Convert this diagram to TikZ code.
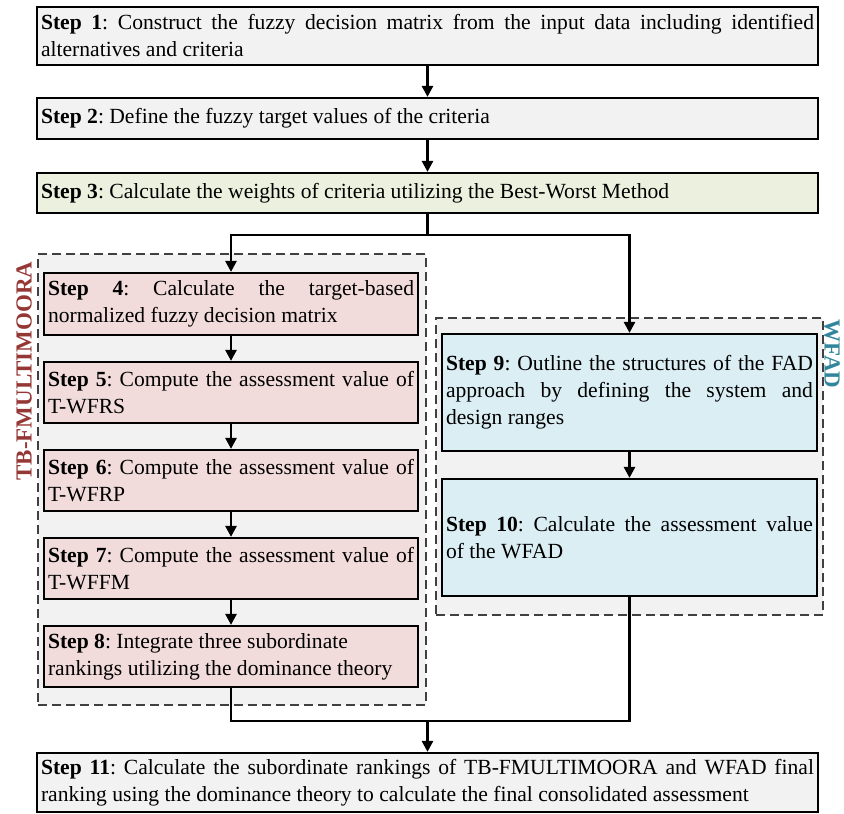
\documentclass[tikz,border=0pt]{standalone}
\usepackage{fontspec}
\setmainfont{Liberation Serif}
\usetikzlibrary{arrows.meta}
\definecolor{boxgray}{HTML}{F2F2F2}
\definecolor{boxgreen}{HTML}{EBF1DE}
\definecolor{boxpink}{HTML}{F2DCDB}
\definecolor{boxblue}{HTML}{DBEEF4}
\definecolor{tbred}{HTML}{953735}
\definecolor{wfteal}{HTML}{31859C}
\newcommand{\steplabel}[1]{\textbf{Step #1}}
\frenchspacing
\hyphenpenalty=10000
\tolerance=9999
\hbadness=10000
\tikzset{
  stepbox/.style={draw, line width=2.2pt, inner xsep=4pt, inner ysep=1pt, align=justify,
    font=\fontsize{21.6}{27}\selectfont},
  grpbox/.style={draw=black!75, dash pattern=on 9pt off 5pt, line width=1.6pt, fill=boxgray, inner sep=0pt},
  grplabel/.style={font=\fontsize{23}{23}\selectfont\bfseries, inner sep=0pt},
  flow/.style={line width=2.6pt},
  flowarr/.style={flow, -{Triangle[length=11pt,width=11pt]}},
}
\begin{document}
\begin{tikzpicture}[x=1pt,y=-1pt]
\useasboundingbox (0,0) rectangle (844,814);
% dashed groups
\node[grpbox, minimum width=388pt, minimum height=451pt] (gtb) at (232,479.5) {};
\node[grpbox, minimum width=387pt, minimum height=297pt] (gwf) at (629.5,466.5) {};
\node[grplabel, rotate=90, text=tbred] (ltb) at (24,371) {TB-FMULTIMOORA};
\node[grplabel, rotate=-90, text=wfteal] (lwf) at (832,354) {WFAD};
% steps
\node[stepbox, fill=boxgray, text width=773pt, minimum height=58pt] (s1) at (427.5,36)
  {\steplabel{1}: Construct the fuzzy decision matrix from the input data including identified\linebreak alternatives and criteria};
\node[stepbox, fill=boxgray, text width=773pt, minimum height=41pt] (s2) at (427.5,118.5)
  {\steplabel{2}: Define the fuzzy target values of the criteria};
\node[stepbox, fill=boxgreen, text width=773pt, minimum height=40pt] (s3) at (427.5,193)
  {\steplabel{3}: Calculate the weights of criteria utilizing the Best-Worst Method};
\node[stepbox, fill=boxpink, text width=366pt, minimum height=62pt] (s4) at (231,304)
  {\steplabel{4}: Calculate the target-based\linebreak normalized fuzzy decision matrix};
\node[stepbox, fill=boxpink, text width=366pt, minimum height=61pt] (s5) at (231,392.5)
  {\steplabel{5}: Compute the assessment value of\linebreak T-WFRS};
\node[stepbox, fill=boxpink, text width=366pt, minimum height=61pt] (s6) at (231,480.5)
  {\steplabel{6}: Compute the assessment value of\linebreak T-WFRP};
\node[stepbox, fill=boxpink, text width=366pt, minimum height=61pt] (s7) at (231,568.5)
  {\steplabel{7}: Compute the assessment value of\linebreak T-WFFM};
\node[stepbox, fill=boxpink, text width=366pt, minimum height=61pt] (s8) at (231,656.5)
  {\steplabel{8}: Integrate three subordinate\\ rankings utilizing the dominance theory};
\node[stepbox, fill=boxblue, text width=367pt, minimum height=117pt] (s9) at (629.5,392.5)
  {\steplabel{9}: Outline the structures of the FAD\linebreak approach by defining the system and\linebreak design ranges};
\node[stepbox, fill=boxblue, text width=367pt, minimum height=117pt] (s10) at (629.5,537.5)
  {\steplabel{10}: Calculate the assessment value\linebreak of the WFAD};
\node[stepbox, fill=boxgray, text width=773pt, minimum height=59pt] (s11) at (427.5,782.5)
  {\steplabel{11}: Calculate the subordinate rankings of TB-FMULTIMOORA and WFAD final\linebreak ranking using the dominance theory to calculate the final consolidated assessment};
% connectors
\draw[flowarr] (s1) -- (s2);
\draw[flowarr] (s2) -- (s3);
\coordinate (split) at (427.5,235);
\draw[flow] (s3.south) -- (split);
\draw[flowarr] (split) -| (s4.north);
\draw[flowarr] (split) -| (s9.north);
\foreach \a/\b in {s4/s5,s5/s6,s6/s7,s7/s8,s9/s10}
  \draw[flowarr] (\a) -- (\b);
\coordinate (merge) at (427.5,721);
\draw[flow] (s8.south) |- (s10.south |- merge) -- (s10.south);
\draw[flowarr] (merge) -- (s11.north);
\end{tikzpicture}
\end{document}
